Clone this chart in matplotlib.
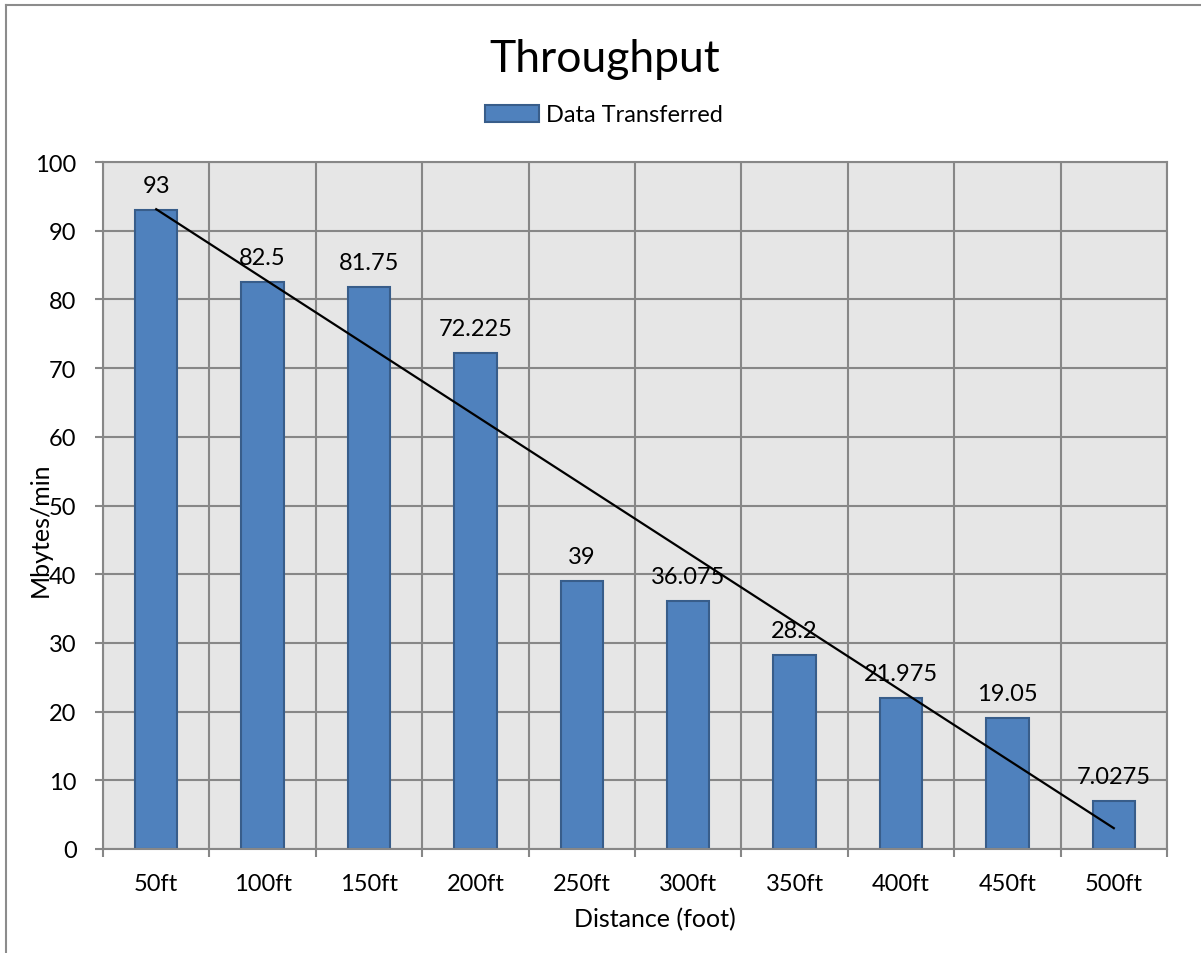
import matplotlib
matplotlib.use('Agg')
import matplotlib.pyplot as plt
from matplotlib.lines import Line2D
import numpy as np

plt.rcParams['font.family'] = ['Lato', 'DejaVu Sans']

# data
distances = ['50ft', '100ft', '150ft', '200ft', '250ft', '300ft', '350ft', '400ft', '450ft', '500ft']
throughput = [93, 82.5, 81.75, 72.225, 39, 36.075, 28.2, 21.975, 19.05, 7.0275]
labels = ['93', '82.5', '81.75', '72.225', '39', '36.075', '28.2', '21.975', '19.05', '7.0275']

W, H = 1201, 954
fig = plt.figure(figsize=(W / 100, H / 100), dpi=100)
ax = fig.add_axes([103 / W, 1 - 850 / H, (1167 - 103) / W, (850 - 163) / H])

x = np.arange(1, len(distances) + 1)
grid_c = '#878787'

ax.set_facecolor('#E6E6E6')
ax.set_axisbelow(True)
bars = ax.bar(x, throughput, width=0.4, color='#4F81BD', edgecolor='#385D8A',
              linewidth=1.5, label='Data Transferred', zorder=2)

# linear trendline
k, b = np.polyfit(x, throughput, 1)
ax.plot(x[[0, -1]], k * x[[0, -1]] + b, color='black', lw=1.6, zorder=4)

for xi, v, t in zip(x, throughput, labels):
    ax.annotate(t, (xi, v), xytext=(0, 10), textcoords='offset points',
                ha='center', va='bottom', fontsize=17, zorder=5)

ax.set_xlim(0.5, len(distances) + 0.5)
ax.set_ylim(0, 100)
ax.set_yticks(np.arange(0, 101, 10))
ax.set_xticks(np.arange(0.5, len(distances) + 1, 1))
ax.set_xticklabels([])
ax.set_xticks(x, minor=True)
ax.set_xticklabels(distances, minor=True)
ax.tick_params(axis='x', which='minor', length=0, pad=17, labelsize=17)
ax.tick_params(axis='x', which='major', length=6, width=1.5, color=grid_c)
ax.tick_params(axis='y', length=6, width=1.5, color=grid_c, pad=13, labelsize=17)
ax.grid(True, which='major', color=grid_c, lw=1.5, zorder=0)
for s in ax.spines.values():
    s.set_color(grid_c)
    s.set_linewidth(1.5)

fig.text(605 / W, 1 - 72 / H, 'Throughput', ha='center', va='baseline', fontsize=32)
fig.legend(handles=[bars], loc='center', bbox_to_anchor=(604 / W, 1 - 116 / H),
           frameon=False, fontsize=17, handlelength=2.3, handletextpad=0.3)
fig.text(655 / W, 1 - 920 / H, 'Distance (foot)', ha='center', va='center', fontsize=18)
fig.text(40 / W, 1 - 530 / H, 'Mbytes/min', ha='center', va='center', rotation=90, fontsize=18)

# chart border (top and left edges visible)
fig.add_artist(Line2D([6 / W, 6 / W], [0, 1 - 6 / H], color='#8C8C8C', lw=1.5))
fig.add_artist(Line2D([6 / W, 1], [1 - 6 / H, 1 - 6 / H], color='#8C8C8C', lw=1.5))

fig.savefig('out.png', dpi=100)
